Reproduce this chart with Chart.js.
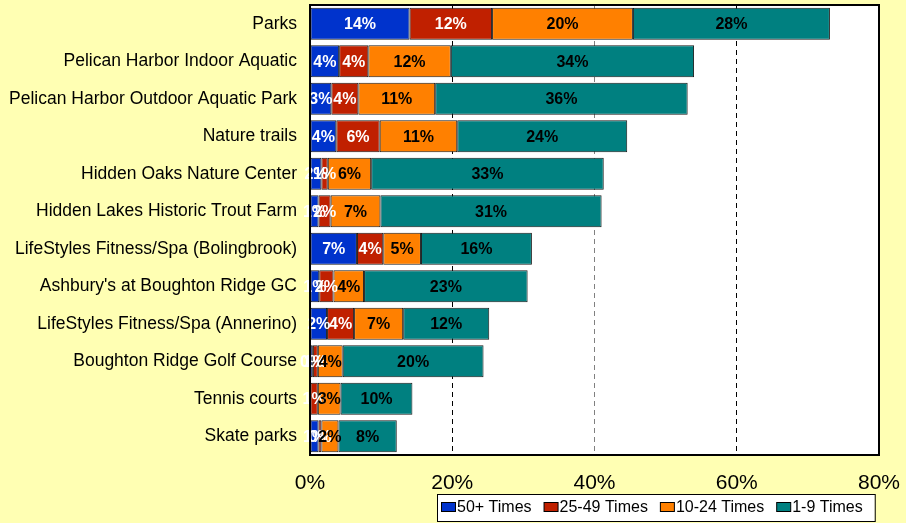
<!DOCTYPE html>
<html>
<head>
<meta charset="utf-8">
<script src="https://cdn.jsdelivr.net/npm/chart.js@4/dist/chart.umd.min.js"></script>
<style>
  html, body { margin: 0; padding: 0; background: #FFFFB3; }
  #wrap { width: 906px; height: 523px; position: relative; }
</style>
</head>
<body>
<div id="wrap"><canvas id="c" width="906" height="523"></canvas></div>
<script>
// ---- Data ----
const categories = [
  "Parks",
  "Pelican Harbor Indoor Aquatic",
  "Pelican Harbor Outdoor Aquatic Park",
  "Nature trails",
  "Hidden Oaks Nature Center",
  "Hidden Lakes Historic Trout Farm",
  "LifeStyles Fitness/Spa (Bolingbrook)",
  "Ashbury's at Boughton Ridge GC",
  "LifeStyles Fitness/Spa (Annerino)",
  "Boughton Ridge Golf Course",
  "Tennis courts",
  "Skate parks"
];
const seriesNames = ["50+ Times", "25-49 Times", "10-24 Times", "1-9 Times"];
const times50plus  = [14.0, 4.1, 3.0, 3.7, 1.6, 1.2, 6.6, 1.3, 2.4, 0.4, 0.0, 1.2];
const times25to49  = [11.6, 4.1, 3.8, 6.1, 0.9, 1.7, 3.7, 2.0, 3.8, 0.7, 1.1, 0.4];
const times10to24  = [19.8, 11.6, 10.8, 10.9, 6.1, 7.0, 5.3, 4.3, 6.9, 3.5, 3.2, 2.4];
const times1to9    = [27.7, 34.2, 35.5, 23.9, 32.7, 31.1, 15.6, 23.0, 12.1, 19.8, 10.1, 8.2];
const xTicks = [0, 20, 40, 60, 80];

const colors = ["#0033CC", "#C02000", "#FF8000", "#008080"];
const labelColors = ["#FFFFFF", "#FFFFFF", "#000000", "#000000"];
const FONT = "'Liberation Sans', Arial, sans-serif";

const values = [times50plus, times25to49, times10to24, times1to9];

const bgPlugin = {
  id: 'bg',
  beforeDraw(chart) {
    const ctx = chart.ctx, a = chart.chartArea;
    ctx.save();
    ctx.fillStyle = '#FFFFB3';
    ctx.fillRect(0, 0, chart.width, chart.height);
    ctx.fillStyle = '#FFFFFF';
    ctx.fillRect(a.left, a.top, a.right - a.left, a.bottom - a.top);
    ctx.restore();
  },
  afterDatasetsDraw(chart) {
    const ctx = chart.ctx;
    ctx.save();
    ctx.font = "bold 16px " + FONT;
    ctx.textAlign = 'center';
    ctx.textBaseline = 'middle';
    chart.data.datasets.forEach((ds, di) => {
      const meta = chart.getDatasetMeta(di);
      meta.data.forEach((el, i) => {
        const v = ds.data[i];
        if (!v) return;
        const cx = (el.x + el.base) / 2;
        ctx.fillStyle = labelColors[di];
        ctx.fillText(Math.round(v) + '%', cx, el.y + 1);
      });
    });
    ctx.restore();
  },
  afterDraw(chart) {
    const ctx = chart.ctx, a = chart.chartArea;
    ctx.save();
    // plot border
    ctx.strokeStyle = '#000';
    ctx.lineWidth = 2;
    ctx.strokeRect(a.left, a.top, a.right - a.left, a.bottom - a.top);
    // legend
    ctx.font = "16px " + FONT;
    ctx.textBaseline = 'middle';
    ctx.textAlign = 'left';
    let x = 441;
    const items = [];
    chart.data.datasets.forEach((ds, di) => {
      const w = ctx.measureText(ds.label).width;
      items.push({x, w, label: ds.label, color: ds.backgroundColor});
      x = x + 16 + w + 12;
    });
    const last = items[items.length - 1];
    const boxL = 437, boxR = last.x + 16 + last.w + 12, boxT = 494.5, boxB = 521.5;
    ctx.fillStyle = '#FFFFFF';
    ctx.fillRect(boxL, boxT, boxR - boxL, boxB - boxT);
    ctx.lineWidth = 1;
    ctx.strokeStyle = '#000';
    ctx.strokeRect(boxL + 0.5, boxT, boxR - boxL, boxB - boxT);
    items.forEach(it => {
      ctx.fillStyle = it.color;
      ctx.fillRect(it.x + 0.5, 502.5, 14, 9);
      ctx.strokeStyle = '#000';
      ctx.strokeRect(it.x + 0.5, 502.5, 14, 9);
      ctx.fillStyle = '#000';
      ctx.fillText(it.label, it.x + 16, 508);
    });
    ctx.restore();
  }
};

new Chart(document.getElementById('c'), {
  type: 'bar',
  data: {
    labels: categories,
    datasets: seriesNames.map((name, i) => ({
      label: name,
      data: values[i],
      backgroundColor: colors[i],
      borderColor: '#1a1a1a',
      borderWidth: 1,
      borderSkipped: false,
      barPercentage: 0.855,
      categoryPercentage: 1.0
    }))
  },
  options: {
    indexAxis: 'y',
    responsive: false,
    animation: false,
    layout: { padding: { left: 0, right: 27, top: 5, bottom: 0 } },
    plugins: {
      legend: { display: false },
      tooltip: { enabled: false }
    },
    scales: {
      x: {
        stacked: true,
        min: 0,
        max: 80,
        afterBuildTicks(scale) { scale.ticks = xTicks.map(v => ({ value: v })); },
        afterFit(scale) {
          scale.height = 68;
          scale.paddingLeft = 0; scale.paddingRight = 0;
          scale.paddingTop = 0; scale.paddingBottom = 0;
        },
        ticks: {
          callback: v => v + '%',
          color: '#000',
          font: { family: FONT, size: 21 },
          padding: 16,
          maxRotation: 0
        },
        grid: {
          drawTicks: false,
          lineWidth: 1,
          color: ctx => (ctx.tick && (ctx.tick.value === 0 || ctx.tick.value === 80)) ? 'rgba(0,0,0,0)' :
                        (ctx.tick && ctx.tick.value === 40 ? '#808080' : '#000000')
        },
        border: { display: false, dash: [5, 4] }
      },
      y: {
        stacked: true,
        afterFit(scale) {
          scale.width = 310;
          scale.paddingTop = 0; scale.paddingBottom = 0;
          scale.paddingLeft = 0; scale.paddingRight = 0;
        },
        ticks: {
          color: '#000',
          font: { family: FONT, size: 17.5 },
          padding: 13
        },
        grid: { display: false, drawTicks: false },
        border: { display: false }
      }
    }
  },
  plugins: [bgPlugin]
});
</script>
</body>
</html>
